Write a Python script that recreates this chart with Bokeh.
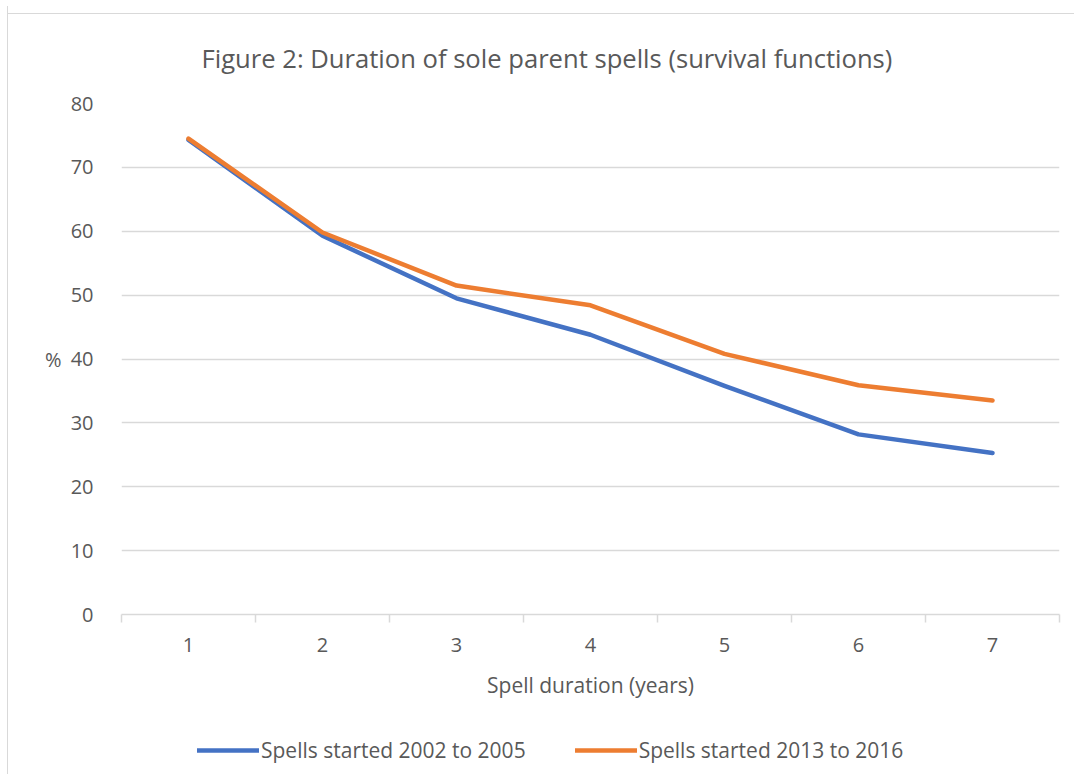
from bokeh.plotting import figure
from bokeh.layouts import column
from bokeh.models import Range1d, FixedTicker, Legend, LegendItem, Title
from bokeh.embed import file_html
from bokeh.resources import INLINE

# ---- data ----
durations = [1, 2, 3, 4, 5, 6, 7]
spells_2002_2005 = [74.3, 59.3, 49.5, 43.8, 35.8, 28.2, 25.3]
spells_2013_2016 = [74.5, 59.8, 51.5, 48.4, 40.8, 35.9, 33.5]
y_ticks = [0, 10, 20, 30, 40, 50, 60, 70, 80]
category_edges = [0.5, 1.5, 2.5, 3.5, 4.5, 5.5, 6.5, 7.5]
series_names = ["Spells started 2002 to 2005", "Spells started 2013 to 2016"]
series_colors = ["#4472C4", "#ED7D31"]
title_text = "Figure 2: Duration of sole parent spells (survival functions)"

FONT = "Open Sans"
TXT = "#595959"
GRID = "#d9d9d9"

p = figure(frame_width=938, frame_height=511, output_backend="svg",
           toolbar_location=None,
           x_range=Range1d(0.5, 7.5), y_range=Range1d(0, 80),
           min_border_left=113, min_border_right=15, min_border_top=97,
           min_border_bottom=100)
p.outline_line_color = None
p.background_fill_color = "white"
p.border_fill_alpha = 0

p.title = Title(text=title_text, align="left", offset=80, standoff=55,
                text_font=FONT, text_font_size="25.6px", text_color=TXT,
                text_font_style="normal")

# x axis
xa = p.xaxis[0]
xa.ticker = FixedTicker(ticks=durations, minor_ticks=category_edges)
xa.major_tick_line_color = None
xa.minor_tick_line_color = GRID
xa.minor_tick_line_width = 1.5
xa.minor_tick_out = 8
xa.minor_tick_in = 0
xa.axis_line_color = GRID
xa.axis_line_width = 1.5
xa.major_label_text_font = FONT
xa.major_label_text_font_size = "20px"
xa.major_label_text_color = TXT
xa.major_label_standoff = 15
xa.axis_label = "Spell duration (years)"
xa.axis_label_text_font = FONT
xa.axis_label_text_font_size = "21px"
xa.axis_label_text_color = TXT
xa.axis_label_text_font_style = "normal"
xa.axis_label_standoff = 16

# y axis
ya = p.yaxis[0]
ya.ticker = FixedTicker(ticks=y_ticks)
ya.major_tick_line_color = None
ya.minor_tick_line_color = None
ya.axis_line_color = None
ya.major_label_text_font = FONT
ya.major_label_text_font_size = "20px"
ya.major_label_text_color = TXT
ya.major_label_standoff = 22
ya.axis_label = "%"
ya.axis_label_orientation = "horizontal"
ya.axis_label_text_font = FONT
ya.axis_label_text_font_size = "20px"
ya.axis_label_text_color = TXT
ya.axis_label_text_font_style = "normal"
ya.axis_label_standoff = 6

p.xgrid.grid_line_color = None
p.ygrid.grid_line_color = GRID
p.ygrid.grid_line_width = 1.5
p.ygrid.ticker = FixedTicker(ticks=y_ticks)

p.line(durations, spells_2002_2005, line_color=series_colors[0], line_width=4.5,
       line_cap="round", line_join="round")
p.line(durations, spells_2013_2016, line_color=series_colors[1], line_width=4.5,
       line_cap="round", line_join="round")

# legend strip below the chart (same series, hidden renderers feed the legend)
p2 = figure(width=1060, height=60, output_backend="svg", toolbar_location=None,
            x_axis_location=None, y_axis_location=None, min_border=0)
p2.outline_line_color = None
p2.background_fill_alpha = 0
p2.border_fill_alpha = 0
p2.grid.grid_line_color = None
l1 = p2.line(durations, spells_2002_2005, line_color=series_colors[0],
             line_width=4.5, line_cap="round", visible=False)
l2 = p2.line(durations, spells_2013_2016, line_color=series_colors[1],
             line_width=4.5, line_cap="round", visible=False)

legend = Legend(items=[LegendItem(label=series_names[0], renderers=[l1]),
                       LegendItem(label=series_names[1], renderers=[l2])],
                orientation="horizontal", location=(76, 10),
                label_text_font=FONT, label_text_font_size="21px",
                label_text_color=TXT, glyph_width=62, glyph_height=24,
                label_standoff=2, spacing=49, border_line_color=None,
                background_fill_alpha=0, margin=0, padding=0)
p2.add_layout(legend, "center")

layout = column(p, p2, margin=(6, 0, 0, 7), spacing=0,
                styles={"border-left": "1px solid #d9d9d9",
                        "background": "linear-gradient(#d9d9d9, #d9d9d9) no-repeat 0 7px / 100% 1px"})

open("out.html", "w").write(file_html(layout, INLINE))
